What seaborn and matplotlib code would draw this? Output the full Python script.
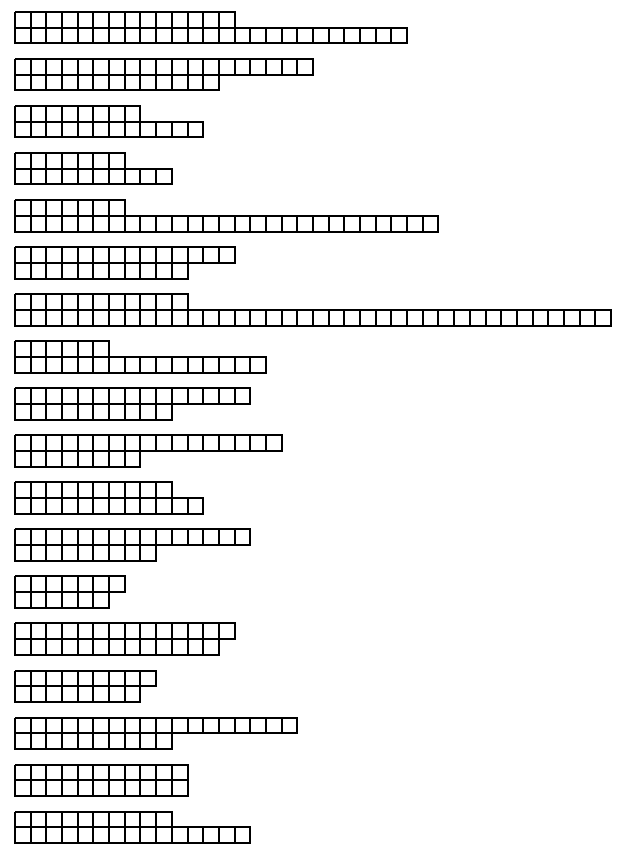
import matplotlib
matplotlib.use("Agg")
import matplotlib.pyplot as plt
from matplotlib.colors import ListedColormap
import seaborn as sns
import numpy as np
import pandas as pd

# squares per row, two rows per group
top_counts = [14, 19, 8, 7, 7, 14, 11, 6, 15, 17, 10, 15, 7, 14, 9, 18, 11, 10]
bottom_counts = [25, 13, 12, 10, 27, 11, 38, 16, 10, 8, 12, 9, 6, 13, 8, 10, 11, 15]

n_cols = max(max(top_counts), max(bottom_counts))

# build grid: top row, bottom row, blank spacer row per group
rows = []
for t, b in zip(top_counts, bottom_counts):
    rows.append([1.0 if j < t else np.nan for j in range(n_cols)])
    rows.append([1.0 if j < b else np.nan for j in range(n_cols)])
    rows.append([np.nan] * n_cols)
rows = rows[:-1]
grid = pd.DataFrame(rows)

fig = plt.figure(figsize=(6.22, 8.54), dpi=100)
ax = fig.add_axes([15 / 622, 10 / 854, 596 / 622, 831 / 854])
sns.heatmap(
    grid,
    mask=grid.isna(),
    cmap=ListedColormap(["white"]),
    cbar=False,
    linewidths=1.2,
    linecolor="black",
    ax=ax,
)
mesh = ax.collections[0]
empty = grid.isna().to_numpy().ravel()
edges = np.zeros((empty.size, 4))
edges[~empty, 3] = 1.0  # black edges only on filled cells
mesh.set_edgecolor(edges)
mesh.set_clip_on(False)
ax.set_axis_off()

fig.savefig("out.png", dpi=100, facecolor="white")
